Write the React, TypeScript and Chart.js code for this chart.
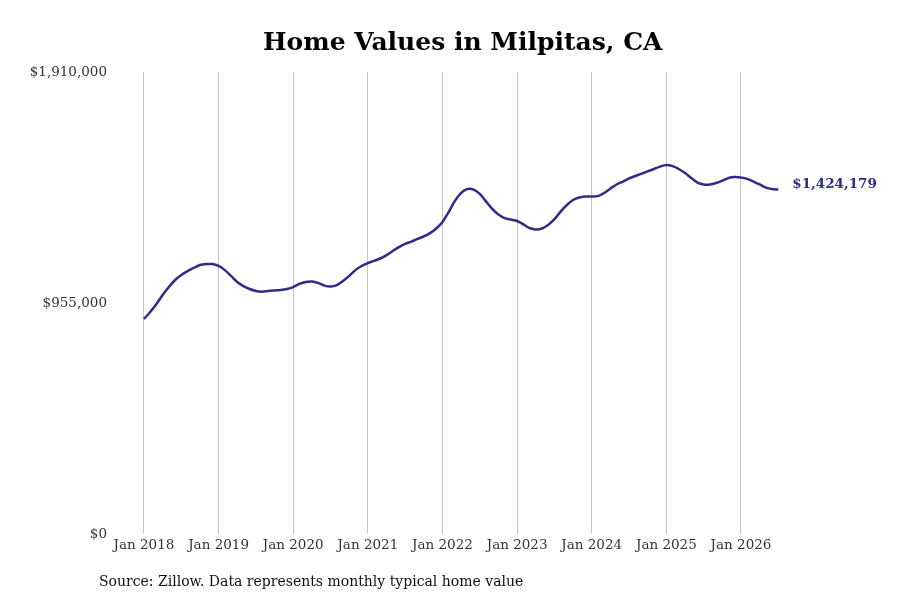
import { Chart, registerables } from "chart.js"
import { useEffect, useRef } from "react"

Chart.register(...registerables)

const FONT = '"DejaVu Serif", serif'
const LINE_COLOR = "#2f2b87"

// monthly typical home value, Jan 2018 .. Jul 2026
const HOME_VALUES = [
	889000, 918000, 951000, 988000, 1021000, 1050000, 1071000, 1087000, 1100000, 1112000, 1116000, 1116000,
	1108000, 1091000, 1067000, 1042000, 1025000, 1013000, 1005000, 1002000, 1005000, 1007000, 1009000, 1013000,
	1021000, 1034000, 1042000, 1044000, 1038000, 1027000, 1023000, 1029000, 1046000, 1067000, 1091000, 1108000,
	1120000, 1129000, 1139000, 1153000, 1170000, 1186000, 1199000, 1209000, 1220000, 1230000, 1244000, 1263000,
	1290000, 1331000, 1377000, 1410000, 1426000, 1424000, 1406000, 1375000, 1344000, 1321000, 1306000, 1300000,
	1294000, 1280000, 1265000, 1259000, 1263000, 1278000, 1302000, 1333000, 1360000, 1381000, 1391000, 1395000,
	1395000, 1397000, 1410000, 1428000, 1445000, 1457000, 1470000, 1480000, 1490000, 1499000, 1509000, 1519000,
	1526000, 1521000, 1509000, 1492000, 1472000, 1453000, 1445000, 1445000, 1451000, 1461000, 1472000, 1476000,
	1474000, 1468000, 1457000, 1445000, 1432000, 1426000, 1424179,
]

const YEAR_LABELS = [
	"Jan 2018", "Jan 2019", "Jan 2020", "Jan 2021", "Jan 2022",
	"Jan 2023", "Jan 2024", "Jan 2025", "Jan 2026",
]

const Y_TICKS = [0, 955000, 1910000]

const fmtDollar = (v: number) => "$" + Math.round(v).toLocaleString("en-US")

document.body.style.margin = "0"

export default function App() {
	const canvasRef = useRef<HTMLCanvasElement>(null)

	useEffect(() => {
		if (!canvasRef.current) return

		const endLabel = {
			id: "endLabel",
			afterDatasetsDraw(chart: Chart) {
				const meta = chart.getDatasetMeta(0)
				const last = meta.data[meta.data.length - 1]
				if (!last) return
				const ctx = chart.ctx
				ctx.save()
				ctx.font = `bold 13.5px ${FONT}`
				ctx.fillStyle = LINE_COLOR
				ctx.textAlign = "left"
				ctx.textBaseline = "middle"
				ctx.fillText(fmtDollar(HOME_VALUES[HOME_VALUES.length - 1]), last.x + 14, last.y - 5)
				ctx.restore()
			},
		}

		const sourceNote = {
			id: "sourceNote",
			afterDraw(chart: Chart) {
				const ctx = chart.ctx
				ctx.save()
				ctx.font = `14px ${FONT}`
				ctx.fillStyle = "#111"
				ctx.textAlign = "left"
				ctx.textBaseline = "middle"
				ctx.fillText("Source: Zillow. Data represents monthly typical home value", 99, 582)
				ctx.restore()
			},
		}

		const chart = new Chart(canvasRef.current, {
			type: "line",
			data: {
				datasets: [
					{
						data: HOME_VALUES.map((v, i) => ({ x: i, y: v })),
						borderColor: LINE_COLOR,
						borderWidth: 2.5,
						pointRadius: 0,
						tension: 0.3,
						fill: false,
					},
				],
			},
			options: {
				responsive: false,
				animation: false,
				layout: { padding: { left: 0, right: 90.6, top: 0, bottom: 36 } },
				plugins: {
					legend: { display: false },
					tooltip: { enabled: false },
					title: {
						display: true,
						text: "Home Values in Milpitas, CA",
						fullSize: false,
						color: "#000",
						font: { family: FONT, size: 25, weight: "bold", lineHeight: 1.2 },
						padding: { top: 28, bottom: 14 },
					},
				},
				scales: {
					x: {
						type: "linear",
						min: -4.5,
						max: 107,
						afterBuildTicks: (scale) => {
							scale.ticks = YEAR_LABELS.map((_, i) => ({ value: i * 12 }))
						},
						afterFit: (scale) => {
							scale.height = 30
						},
						ticks: {
							autoSkip: false,
							maxRotation: 0,
							padding: 3,
							color: "#333",
							font: { family: FONT, size: 13.5 },
							callback: (v) => YEAR_LABELS[Math.round(Number(v) / 12)] ?? "",
						},
						grid: { color: "#c4c4c4", lineWidth: 1, drawTicks: false },
						border: { display: false },
					},
					y: {
						min: 0,
						max: 1910000,
						afterBuildTicks: (scale) => {
							scale.ticks = Y_TICKS.map((v) => ({ value: v }))
						},
						afterFit: (scale) => {
							scale.width = 116
						},
						ticks: {
							padding: 9,
							color: "#333",
							font: { family: FONT, size: 13.5 },
							callback: (v) => fmtDollar(Number(v)),
						},
						grid: { display: false, drawTicks: false },
						border: { display: false },
					},
				},
			},
			plugins: [endLabel, sourceNote],
		})

		return () => {
			chart.destroy()
		}
	}, [])

	return (
		<div style={{ width: 900, height: 600, background: "#fff" }}>
			<canvas ref={canvasRef} width={900} height={600} />
		</div>
	)
}
